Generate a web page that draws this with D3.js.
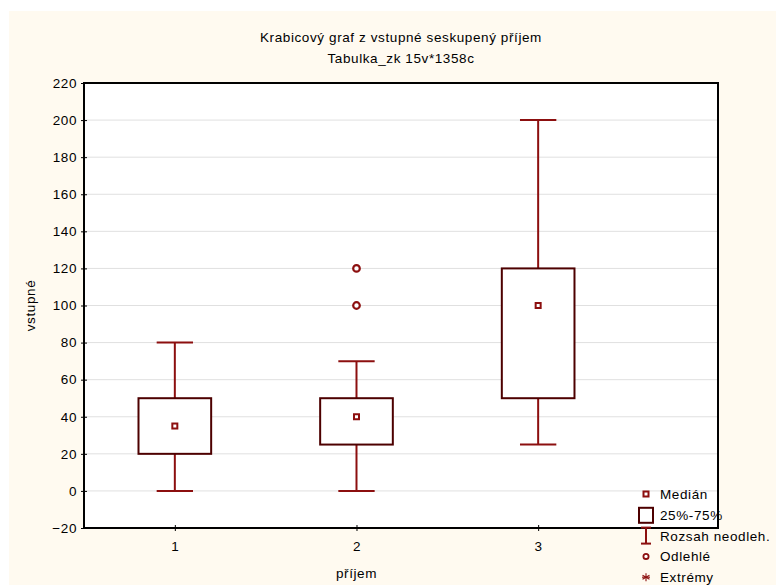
<!DOCTYPE html>
<html>
<head>
<meta charset="utf-8">
<script src="https://cdn.jsdelivr.net/npm/d3@7"></script>
<style>
  html, body { margin: 0; padding: 0; background: #ffffff; }
  svg { display: block; }
  text { font-family: "Liberation Sans", Arial, sans-serif; fill: #000; letter-spacing: 0.6px; }
</style>
</head>
<body>
<svg id="chart" width="776" height="585"></svg>
<script>
// Groups of "příjem" and the box-plot statistics of "vstupné" in each group
const categories = [1, 2, 3];
const medians = [35, 40, 100];
const q1 = [20, 25, 50];
const q3 = [50, 50, 120];
const whiskerLow = [0, 0, 25];
const whiskerHigh = [80, 70, 200];
const outliers = [[], [100, 120], []];
const yTicks = [-20, 0, 20, 40, 60, 80, 100, 120, 140, 160, 180, 200, 220];

const titleText = "Krabicový graf z vstupné seskupený příjem";
const subtitleText = "Tabulka_zk 15v*1358c";
const xLabel = "příjem";
const yLabel = "vstupné";
const legendItems = ["Medián", "25%-75%", "Rozsah neodleh.", "Odlehlé", "Extrémy"];

const boxColor = "#4d0000";
const whiskerColor = "#8c0f0f";
const fontSize = 13.5;

const svg = d3.select("#chart");

// cream page background
svg.append("rect").attr("x", 9).attr("y", 11).attr("width", 767).attr("height", 574)
  .attr("fill", "#fffaf0");

const plot = { left: 84, right: 718, top: 83, bottom: 528 };

const x = d3.scaleLinear().domain([0.5, 3.99]).range([plot.left, plot.right]);
const y = d3.scaleLinear().domain([-20, 220]).range([plot.bottom, plot.top]);

// plot area
svg.append("rect")
  .attr("x", plot.left).attr("y", plot.top)
  .attr("width", plot.right - plot.left).attr("height", plot.bottom - plot.top)
  .attr("fill", "#ffffff");

// horizontal grid
svg.append("g").selectAll("line")
  .data(yTicks.filter(t => t > -20 && t < 220))
  .join("line")
  .attr("x1", plot.left).attr("x2", plot.right)
  .attr("y1", d => y(d)).attr("y2", d => y(d))
  .attr("stroke", "#e0e0e0").attr("stroke-width", 1);

// axes
const yAxis = d3.axisLeft(y).tickValues(yTicks).tickSize(3).tickPadding(5);
const gy = svg.append("g").attr("transform", `translate(${plot.left},0)`).call(yAxis);
gy.select(".domain").remove();
gy.selectAll(".tick line").attr("x2", 3).attr("x1", -3).attr("stroke", "#000");
gy.selectAll(".tick text").attr("font-size", fontSize).attr("x", -7).attr("font-family", null);

const xAxis = d3.axisBottom(x).tickValues(categories).tickFormat(d3.format("d")).tickSize(3).tickPadding(10);
const gx = svg.append("g").attr("transform", `translate(0,${plot.bottom})`).call(xAxis);
gx.select(".domain").remove();
gx.selectAll(".tick line").attr("y1", -3).attr("y2", 3).attr("stroke", "#000");
gx.selectAll(".tick text").attr("font-size", fontSize);
svg.selectAll("g").attr("font-family", null);

// frame
svg.append("rect")
  .attr("x", plot.left).attr("y", plot.top)
  .attr("width", plot.right - plot.left).attr("height", plot.bottom - plot.top)
  .attr("fill", "none").attr("stroke", "#000").attr("stroke-width", 2);

// boxes
const boxHalf = 0.2, capHalf = 0.1;
const g = svg.append("g");
categories.forEach((c, i) => {
  const cx = x(c);
  // whiskers
  g.append("line").attr("x1", cx).attr("x2", cx)
    .attr("y1", y(whiskerHigh[i])).attr("y2", y(q3[i]))
    .attr("stroke", whiskerColor).attr("stroke-width", 2);
  g.append("line").attr("x1", cx).attr("x2", cx)
    .attr("y1", y(q1[i])).attr("y2", y(whiskerLow[i]))
    .attr("stroke", whiskerColor).attr("stroke-width", 2);
  [whiskerHigh[i], whiskerLow[i]].forEach(v => {
    g.append("line")
      .attr("x1", x(c - capHalf)).attr("x2", x(c + capHalf))
      .attr("y1", y(v)).attr("y2", y(v))
      .attr("stroke", whiskerColor).attr("stroke-width", 2);
  });
  // box
  g.append("rect")
    .attr("x", x(c - boxHalf)).attr("y", y(q3[i]))
    .attr("width", x(c + boxHalf) - x(c - boxHalf))
    .attr("height", y(q1[i]) - y(q3[i]))
    .attr("fill", "#ffffff").attr("stroke", boxColor).attr("stroke-width", 2);
  // median marker
  g.append("rect")
    .attr("x", cx - 2.5).attr("y", y(medians[i]) - 2.5)
    .attr("width", 5).attr("height", 5)
    .attr("fill", "#ffffff").attr("stroke", whiskerColor).attr("stroke-width", 2);
  // outliers
  outliers[i].forEach(v => {
    g.append("circle").attr("cx", cx).attr("cy", y(v)).attr("r", 3.3)
      .attr("fill", "#ffffff").attr("stroke", whiskerColor).attr("stroke-width", 2.2);
  });
});

// titles
const midX = (plot.left + plot.right) / 2;
svg.append("text").attr("x", midX).attr("y", 42).attr("text-anchor", "middle")
  .attr("font-size", fontSize).text(titleText);
svg.append("text").attr("x", midX).attr("y", 63).attr("text-anchor", "middle")
  .attr("font-size", fontSize).text(subtitleText);
svg.append("text").attr("x", x(2)).attr("y", 578).attr("text-anchor", "middle")
  .attr("font-size", fontSize).text(xLabel);
svg.append("text").attr("transform", `translate(35,${y(100)}) rotate(-90)`)
  .attr("text-anchor", "middle").attr("font-size", fontSize).text(yLabel);

// legend
const legendX = 646, legendY0 = 494, legendStep = 20.8;
const lg = svg.append("g");
legendItems.forEach((label, i) => {
  const ly = legendY0 + i * legendStep;
  lg.append("text").attr("x", 660).attr("y", ly + 5).attr("font-size", fontSize).text(label);
  if (i === 0) {
    lg.append("rect").attr("x", legendX - 2.5).attr("y", ly - 2.5).attr("width", 5).attr("height", 5)
      .attr("fill", "#fff").attr("stroke", whiskerColor).attr("stroke-width", 2);
  } else if (i === 1) {
    lg.append("rect").attr("x", legendX - 7).attr("y", ly - 7).attr("width", 14).attr("height", 15)
      .attr("fill", "#fff").attr("stroke", boxColor).attr("stroke-width", 2);
  } else if (i === 2) {
    lg.append("line").attr("x1", legendX).attr("x2", legendX).attr("y1", ly - 8).attr("y2", ly + 8)
      .attr("stroke", whiskerColor).attr("stroke-width", 2);
    lg.append("line").attr("x1", legendX - 5).attr("x2", legendX + 5).attr("y1", ly - 8).attr("y2", ly - 8)
      .attr("stroke", whiskerColor).attr("stroke-width", 2);
    lg.append("line").attr("x1", legendX - 5).attr("x2", legendX + 5).attr("y1", ly + 8).attr("y2", ly + 8)
      .attr("stroke", whiskerColor).attr("stroke-width", 2);
  } else if (i === 3) {
    lg.append("circle").attr("cx", legendX).attr("cy", ly).attr("r", 2.6)
      .attr("fill", "#fff").attr("stroke", whiskerColor).attr("stroke-width", 1.8);
  } else {
    [30, 90, 150].forEach(a => {
      const r = 4, rad = a * Math.PI / 180;
      lg.append("line")
        .attr("x1", legendX - r * Math.cos(rad)).attr("y1", ly - r * Math.sin(rad))
        .attr("x2", legendX + r * Math.cos(rad)).attr("y2", ly + r * Math.sin(rad))
        .attr("stroke", whiskerColor).attr("stroke-width", 1.1);
    });
    lg.append("line").attr("x1", legendX - 4).attr("x2", legendX + 4).attr("y1", ly).attr("y2", ly)
      .attr("stroke", whiskerColor).attr("stroke-width", 1.1);
  }
});
</script>
</body>
</html>
